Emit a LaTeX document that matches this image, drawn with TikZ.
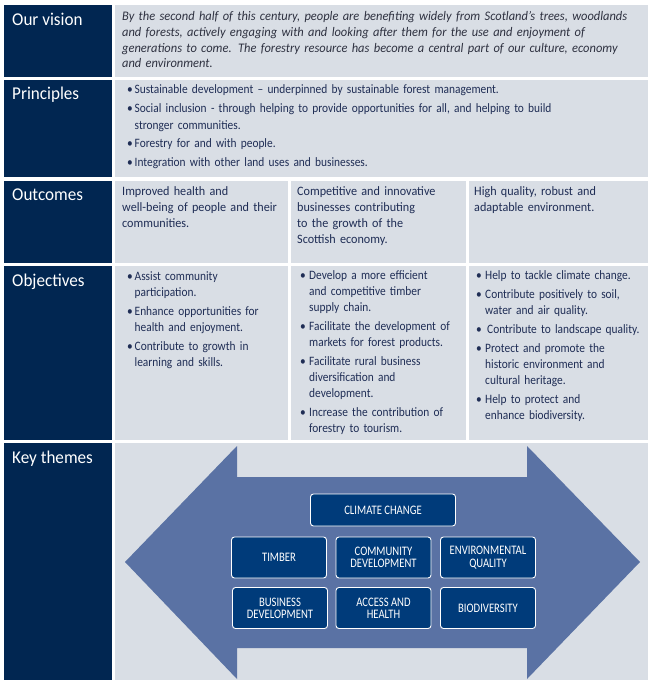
\documentclass[tikz,border=0pt]{standalone}
\usepackage{fontspec}
\setmainfont{Carlito}[FakeStretch=0.95]
\newfontfamily\themefont{Carlito}[FakeStretch=0.82]
\newfontfamily\listfont{Carlito}[FakeStretch=0.89]
\definecolor{navy}{HTML}{012651}
\definecolor{cellgrey}{HTML}{D9DEE5}
\definecolor{arrowblue}{HTML}{5A72A4}
\definecolor{boxblue}{HTML}{003B7A}
\definecolor{bodytext}{HTML}{1F2D55}
\definecolor{visiontext}{HTML}{2E3140}
\newcommand\bul[2][7.5pt]{\noindent\hangindent=#1\hangafter=1\makebox[#1][l]{\textbullet}#2\par}
\newcommand\listsetup[1]{\setlength{\parskip}{#1}\rightskip=0pt plus 1fil\hyphenpenalty=10000\relax}
\tikzset{
  navybox/.style={fill=navy},
  greybox/.style={fill=cellgrey},
  head/.style={anchor=base west, text=white, inner sep=0pt, font=\fontsize{18}{20}\selectfont},
  body/.style={anchor=base west, text=bodytext, inner sep=0pt, align=left, font=\fontsize{12.8}{16}\selectfont},
  listbody/.style={anchor=base west, text=bodytext, inner sep=0pt, font=\listfont\fontsize{12.8}{16}\selectfont},
  theme/.style={draw=white, line width=0.9pt, fill=boxblue, rounded corners=3pt, text=white,
    font=\themefont\fontsize{13}{12.3}\selectfont, align=center, inner sep=0pt,
    minimum width=95pt, minimum height=41pt}
}
\begin{document}
\begin{tikzpicture}[x=1pt,y=-1pt]
\useasboundingbox (0,0) rectangle (651,684);
\fill[white] (0,0) rectangle (651,684);
% row backgrounds
\fill[navybox] (4,5) rectangle (112,77);
\fill[greybox] (115,5) rectangle (648,77);
\fill[navybox] (4,80) rectangle (112,177);
\fill[greybox] (115,80) rectangle (648,177);
\fill[navybox] (4,181) rectangle (112,263);
\fill[greybox] (115,181) rectangle (288,263);
\fill[greybox] (291,181) rectangle (466,263);
\fill[greybox] (469,181) rectangle (648,263);
\fill[navybox] (4,266) rectangle (112,440);
\fill[greybox] (115,266) rectangle (288,440);
\fill[greybox] (291,266) rectangle (466,440);
\fill[greybox] (469,266) rectangle (648,440);
\fill[navybox] (4,443) rectangle (112,680);
\fill[greybox] (115,443) rectangle (648,680);
% headings
\node[head] (hvision) at (12,26) {Our vision};
\node[head] (hprin) at (12,100) {Principles};
\node[head] (hout) at (12,200.5) {Outcomes};
\node[head] (hobj) at (12,286) {Objectives};
\node[head] (hkey) at (12,463) {Key themes};
% vision
\node[body, text=visiontext, text width=525pt, font=\fontsize{13.1}{15.8}\selectfont\itshape] (vision) at (122,20.5)
 {By the second half of this century, people are benefiting widely from Scotland’s trees, woodlands\\
 and forests, actively engaging with and looking after them for the use and enjoyment of\\
 generations to come. The forestry resource has become a central part of our culture, economy\\
 and environment.};
% principles
\node[listbody, text width=515pt, font=\listfont\fontsize{12.8}{16.3}\selectfont] (prin) at (127,94)
 {\listsetup{2.5pt}%
 \bul{Sustainable development – underpinned by sustainable forest management.}%
 \bul{Social inclusion - through helping to provide opportunities for all, and helping to build\newline stronger communities.}%
 \bul{Forestry for and with people.}%
 \bul{Integration with other land uses and businesses.}};
% outcomes
\node[body, text width=165pt] (out1) at (122,195.7)
 {Improved health and\\ well-being of people and their\\ communities.};
\node[body, text width=165pt] (out2) at (297,195.7)
 {Competitive and innovative\\ businesses contributing\\ to the growth of the\\ Scottish economy.};
\node[body, text width=170pt] (out3) at (474,195.7)
 {High quality, robust and\\ adaptable environment.};
% objectives
\node[listbody, text width=200pt] (obj1) at (127,280)
 {\listsetup{3pt}%
 \bul{Assist community\newline participation.}%
 \bul{Enhance opportunities for\newline health and enjoyment.}%
 \bul{Contribute to growth in\newline learning and skills.}};
\node[listbody, text width=200pt] (obj2) at (300,279.5)
 {\listsetup{3pt}%
 \bul[9pt]{Develop a more efficient\newline and competitive timber\newline supply chain.}%
 \bul[9pt]{Facilitate the development of\newline markets for forest products.}%
 \bul[9pt]{Facilitate rural business\newline diversification and\newline development.}%
 \bul[9pt]{Increase the contribution of\newline forestry to tourism.}};
\node[listbody, text width=200pt] (obj3) at (476,279.5)
 {\listsetup{3pt}%
 \bul[9pt]{Help to tackle climate change.}%
 \bul[9pt]{Contribute positively to soil,\newline water and air quality.}%
 \bul[9pt]{\hspace{2pt}Contribute to landscape quality.}%
 \bul[9pt]{Protect and promote the\newline historic environment and\newline cultural heritage.}%
 \bul[9pt]{Help to protect and\newline enhance biodiversity.}};
% double arrow
\fill[arrowblue] (125,562) -- (237,446) -- (237,477) -- (527,477) -- (527,446) -- (640,562)
  -- (527,679) -- (527,648) -- (237,648) -- (237,679) -- cycle;
% theme boxes
\node[theme, minimum width=145pt, minimum height=32pt] (climate) at (383,510) {CLIMATE CHANGE};
\node[theme] (timber) at (279,557.5) {TIMBER};
\node[theme] (community) at (383.5,557.5) {COMMUNITY\\DEVELOPMENT};
\node[theme] (env) at (488,557.5) {ENVIRONMENTAL\\QUALITY};
\node[theme] (business) at (280,608) {BUSINESS\\DEVELOPMENT};
\node[theme] (access) at (383.5,608) {ACCESS AND\\HEALTH};
\node[theme] (bio) at (488,608) {BIODIVERSITY};
\end{tikzpicture}
\end{document}
